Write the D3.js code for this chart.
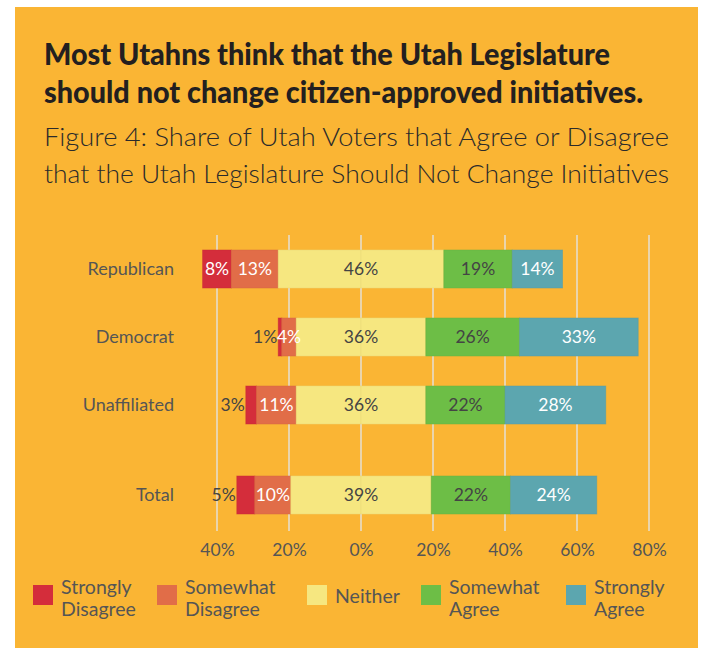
<!DOCTYPE html>
<html><head><meta charset="utf-8">
<script src="https://cdn.jsdelivr.net/npm/d3@7"></script>
<style>
html,body{margin:0;padding:0;background:#fff;}
svg{display:block;}
</style></head>
<body>
<svg id="chart" width="715" height="648"></svg>
<script>
const categories = ["Republican", "Democrat", "Unaffiliated", "Total"];
const stronglyDisagree = [8, 1, 3, 5];
const somewhatDisagree = [13, 4, 11, 10];
const neither = [46, 36, 36, 39];
const somewhatAgree = [19, 26, 22, 22];
const stronglyAgree = [14, 33, 28, 24];
const seriesNames = [["Strongly", "Disagree"], ["Somewhat", "Disagree"], ["Neither"], ["Somewhat", "Agree"], ["Strongly", "Agree"]];
const seriesColors = ["#D42D3B", "#E16D48", "#F6E780", "#6DBE46", "#5CA6AF"];
const labelColors = ["#fff", "#fff", "#444", "#444", "#fff"];
const tickValues = [-40, -20, 0, 20, 40, 60, 80];
const title = ["Most Utahns think that the Utah Legislature", "should not change citizen-approved initiatives."];
const subtitle = ["Figure 4: Share of Utah Voters that Agree or Disagree", "that the Utah Legislature Should Not Change Initiatives"];

const svg = d3.select("#chart");
const font = "Lato, 'Open Sans', sans-serif";

svg.append("rect").attr("x", 15).attr("y", 7).attr("width", 683).attr("height", 641).attr("fill", "#FAB534");

const titleW = [566, 599];
svg.selectAll("text.title").data(title).join("text")
  .attr("x", 44).attr("y", (d, i) => 65 + i * 38)
  .attr("font-family", font).attr("font-weight", 900).attr("font-size", 29.5)
  .attr("textLength", (d, i) => titleW[i]).attr("lengthAdjust", "spacingAndGlyphs")
  .attr("fill", "#231f20").text(d => d);

const subW = [625, 625];
svg.selectAll("text.sub").data(subtitle).join("text")
  .attr("x", 44).attr("y", (d, i) => 146 + i * 37)
  .attr("font-family", font).attr("font-weight", 300).attr("font-size", 26)
  .attr("textLength", (d, i) => subW[i]).attr("lengthAdjust", "spacingAndGlyphs")
  .attr("fill", "#2b2b2b").text(d => d);

const x = d3.scaleLinear().domain([-40, 80]).range([217, 649]);
const yIdx = d3.scaleLinear().domain([0, 2]).range([269, 405]);
const totalGap = 22;
const yc = i => yIdx(i) + (categories[i] === "Total" ? totalGap : 0);
const barH = 38;

// grid
svg.append("g").selectAll("line").data(tickValues).join("line")
  .attr("x1", d => x(d)).attr("x2", d => x(d))
  .attr("y1", 235).attr("y2", 531)
  .attr("stroke", "#E6DDCB").attr("stroke-width", 1.6);

// axis labels
const axis = d3.axisBottom(x).tickValues(tickValues).tickFormat(d => Math.abs(d) + "%").tickSize(0).tickPadding(0);
const ag = svg.append("g").attr("transform", "translate(0,544)").call(axis);
ag.select(".domain").remove();
ag.selectAll("text").attr("font-family", font).attr("font-size", 17.5).attr("fill", "#555");

// stacks
const rows = categories.map((c, i) => {
  const vals = [stronglyDisagree[i], somewhatDisagree[i], neither[i], somewhatAgree[i], stronglyAgree[i]];
  let start = -(vals[2] / 2 + vals[1] + vals[0]);
  const segs = vals.map((v, k) => { const s = { k, v, x0: start, x1: start + v, row: i }; start += v; return s; });
  return { c, i, segs };
});

const rowG = svg.append("g").selectAll("g").data(rows).join("g")
  .attr("transform", d => `translate(0,${yc(d.i)})`);

rowG.selectAll("rect").data(d => d.segs.flatMap(s => s.k === 2 ?
    [{ ...s, x1: (s.x0 + s.x1) / 2 }, { ...s, x0: (s.x0 + s.x1) / 2 }] : [s]))
  .join("rect")
  .attr("x", s => x(s.x0)).attr("width", s => x(s.x1) - x(s.x0))
  .attr("y", -barH / 2).attr("height", barH)
  .attr("fill", s => seriesColors[s.k])
  .attr("stroke", s => d3.color(seriesColors[s.k]).darker(0.15)).attr("stroke-width", 0.8).attr("stroke-opacity", 0.6);

const outside = s => s.v < 4 || (s.k === 0 && s.v < 6);
rowG.selectAll("text.v").data(d => d.segs).join("text")
  .attr("class", "v")
  .attr("x", s => outside(s) ? x(s.x0) - 1 : x((s.x0 + s.x1) / 2))
  .attr("y", 0).attr("dy", "0.36em")
  .attr("text-anchor", s => outside(s) ? "end" : "middle")
  .attr("font-family", font).attr("font-size", 17.5)
  .attr("fill", s => outside(s) ? "#444" : labelColors[s.k])
  .text(s => s.v + "%");

rowG.append("text").attr("x", 174).attr("y", 0).attr("dy", "0.36em")
  .attr("text-anchor", "end").attr("font-family", font).attr("font-size", 18)
  .attr("fill", "#555").text(d => d.c);

// legend
const legX = [33, 157, 307, 421, 566];
const lg = svg.append("g").selectAll("g").data(seriesNames).join("g")
  .attr("transform", (d, i) => `translate(${legX[i]},585)`);
lg.append("rect").attr("width", 20).attr("height", 20).attr("fill", (d, i) => seriesColors[i]);
lg.each(function (d) {
  const g = d3.select(this);
  g.selectAll("text").data(d).join("text")
    .attr("x", 28)
    .attr("y", (t, j) => d.length === 1 ? 18 : 9 + j * 22)
    .attr("font-family", font).attr("font-size", 19.5).attr("letter-spacing", 0)
    .attr("fill", "#555").text(t => t);
});
</script>
</body></html>
